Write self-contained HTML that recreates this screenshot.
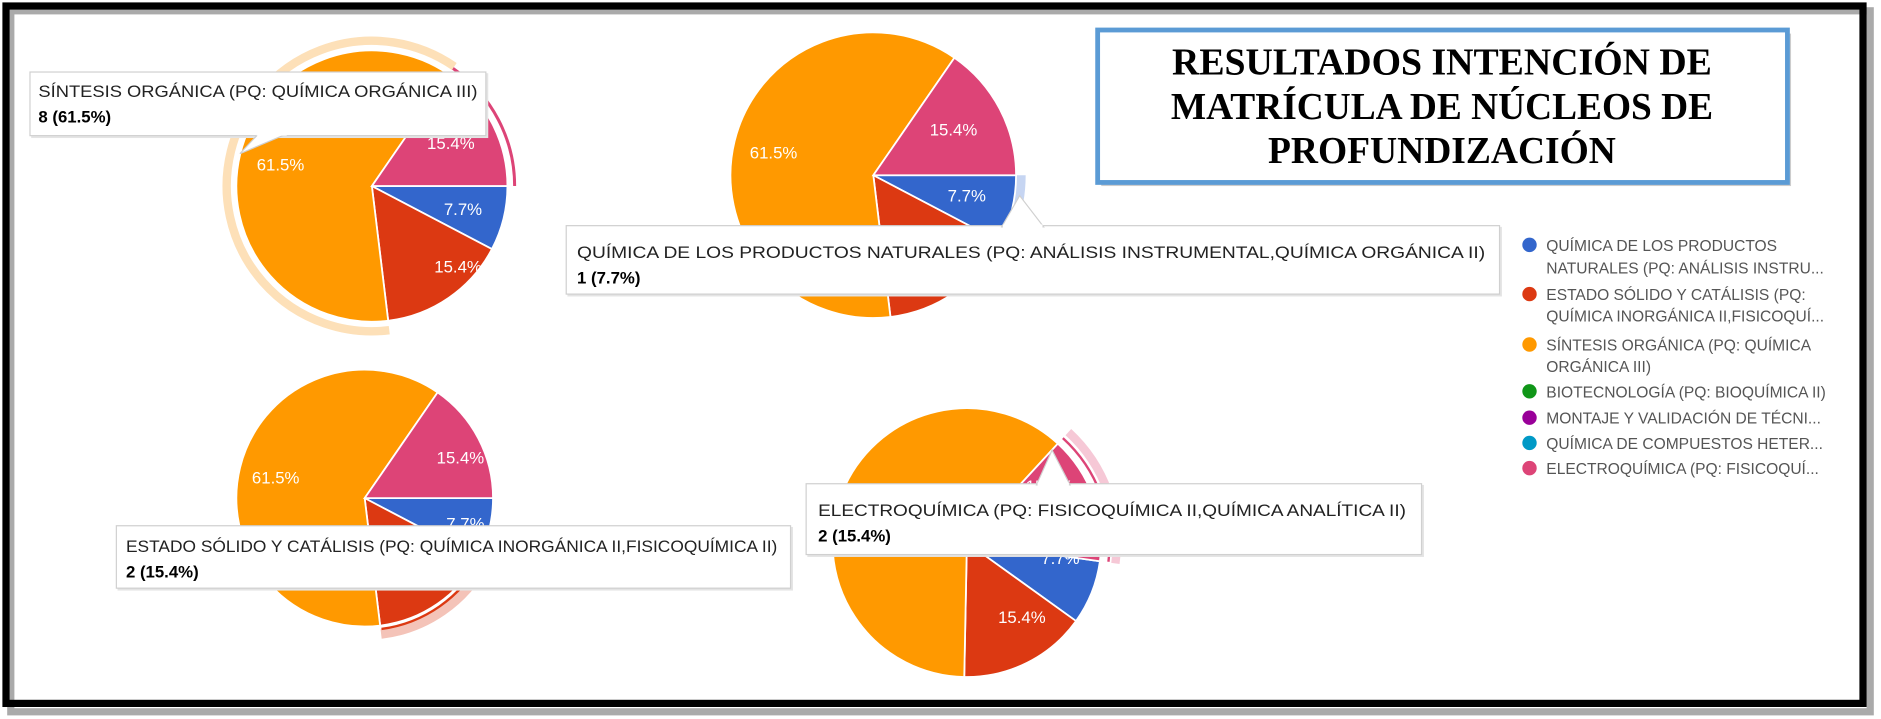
<!DOCTYPE html>
<html><head><meta charset="utf-8"><style>
html,body{margin:0;padding:0;background:#fff;}
svg{display:block;}
.t{font-family:"Liberation Sans",Arial,sans-serif;}
</style></head><body>
<svg width="1881" height="719" viewBox="0 0 1568 599" preserveAspectRatio="none" xmlns="http://www.w3.org/2000/svg">
<rect width="1568" height="599" fill="#fff"/>
<rect x="9" y="9" width="1550" height="584" fill="none" stroke="#aaa" stroke-width="6"/>
<rect x="5" y="5" width="1548" height="581" fill="none" stroke="#000" stroke-width="6"/>

<!-- Pie 1 -->
<path d="M378.7,55.4 A121,121 0 1 0 324.5,275.1" fill="none" stroke="#fde0b8" stroke-width="7"/>
<path d="M377.6,57 A119,119 0 0 1 429,155" fill="none" stroke="#dd4477" stroke-width="2.5"/>
<g stroke="#fff" stroke-width="1.5">
<path d="M310,155 L423,155 A113,113 0 0 1 410.1,207.5 Z" fill="#3366cc"/>
<path d="M310,155 L410.1,207.5 A113,113 0 0 1 323.6,267.2 Z" fill="#dc3912"/>
<path d="M310,155 L323.6,267.2 A113,113 0 1 1 374.2,62 Z" fill="#ff9900"/>
<path d="M310,155 L374.2,62 A113,113 0 0 1 423,155 Z" fill="#dd4477"/>
</g>
<g class="t" fill="#fff" font-size="14">
<text x="214" y="142">61.5%</text><text x="356" y="124">15.4%</text>
<text x="370" y="179">7.7%</text><text x="362" y="227">15.4%</text>
</g>

<!-- Pie 2 -->
<path d="M851,146 A123,123 0 0 1 837,203" fill="none" stroke="#c6d5f2" stroke-width="8"/>
<g stroke="#fff" stroke-width="1.5">
<path d="M728,146 L847,146 A119,119 0 0 1 833.4,201.3 Z" fill="#3366cc"/>
<path d="M728,146 L833.4,201.3 A119,119 0 0 1 742.3,264.1 Z" fill="#dc3912"/>
<path d="M728,146 L742.3,264.1 A119,119 0 1 1 795.6,48.1 Z" fill="#ff9900"/>
<path d="M728,146 L795.6,48.1 A119,119 0 0 1 847,146 Z" fill="#dd4477"/>
</g>
<g class="t" fill="#fff" font-size="14">
<text x="625" y="132">61.5%</text><text x="775" y="113">15.4%</text>
<text x="790" y="168">7.7%</text>
</g>

<!-- Pie 3 -->
<path d="M404.9,468 A114,114 0 0 1 317.7,528.2" fill="none" stroke="#f4c3b8" stroke-width="8"/>
<path d="M401,466 A110,110 0 0 1 318,524" fill="none" stroke="#dc3912" stroke-width="2"/>
<g stroke="#fff" stroke-width="1.5">
<path d="M304,415 L411,415 A107,107 0 0 1 398.7,464.7 Z" fill="#3366cc"/>
<path d="M304,415 L398.7,464.7 A107,107 0 0 1 316.9,521.2 Z" fill="#dc3912"/>
<path d="M304,415 L316.9,521.2 A107,107 0 1 1 364.8,326.9 Z" fill="#ff9900"/>
<path d="M304,415 L364.8,326.9 A107,107 0 0 1 411,415 Z" fill="#dd4477"/>
</g>
<g class="t" fill="#fff" font-size="14">
<text x="210" y="403">61.5%</text><text x="364" y="386">15.4%</text>
<text x="372" y="441">7.7%</text>
</g>

<!-- Pie 4 -->
<path d="M890.6,360 A125,125 0 0 1 929.8,469.4" fill="none" stroke="#f6c8d6" stroke-width="7"/>
<path d="M886,365 A119,119 0 0 1 924,468" fill="none" stroke="#dd4477" stroke-width="2"/>
<g stroke="#fff" stroke-width="1.5">
<path d="M806,452 L916.9,467.6 A112,112 0 0 1 897,517.4 Z" fill="#3366cc"/>
<path d="M806,452 L897,517.4 A112,112 0 0 1 803.8,564 Z" fill="#dc3912"/>
<path d="M806,452 L803.8,564 A112,112 0 1 1 881.8,369.6 Z" fill="#ff9900"/>
<path d="M806,452 L881.8,369.6 A112,112 0 0 1 916.9,467.6 Z" fill="#dd4477"/>
</g>
<g class="t" fill="#fff" font-size="14">
<text x="832" y="519">15.4%</text><text x="855" y="410">15.4%</text>
<text x="868" y="470">7.7%</text>
</g>

<!-- Tooltips -->
<g class="t">
<g>
<rect x="26" y="61" width="381" height="54" fill="#e4e4e4"/>
<rect x="25" y="60" width="380" height="53" fill="#fff" stroke="#d0d0d0"/>
<path d="M215,112 L200,128 L238,112 Z" fill="#fff" stroke="#d0d0d0"/>
<rect x="214" y="110" width="25" height="3" fill="#fff"/>
<text x="32" y="81" font-size="14" fill="#222" textLength="366" lengthAdjust="spacingAndGlyphs">SÍNTESIS ORGÁNICA (PQ: QUÍMICA ORGÁNICA III)</text>
<text x="32" y="102" font-size="14" font-weight="bold" fill="#000">8 (61.5%)</text>
</g>
<g>
<rect x="473" y="189" width="779" height="58" fill="#e4e4e4"/>
<rect x="472" y="188" width="778" height="57" fill="#fff" stroke="#d0d0d0"/>
<path d="M835,189 L850,163 L870,189 Z" fill="#fff" stroke="#d0d0d0"/>
<rect x="836" y="187" width="33" height="3" fill="#fff"/>
<text x="481" y="215" font-size="14" fill="#222" textLength="757" lengthAdjust="spacingAndGlyphs">QUÍMICA DE LOS PRODUCTOS NATURALES (PQ: ANÁLISIS INSTRUMENTAL,QUÍMICA ORGÁNICA II)</text>
<text x="481" y="236" font-size="14" font-weight="bold" fill="#000">1 (7.7%)</text>
</g>
<g>
<rect x="98" y="439" width="563" height="53" fill="#e4e4e4"/>
<rect x="97" y="438" width="562" height="52" fill="#fff" stroke="#d0d0d0"/>
<text x="105" y="460" font-size="14" fill="#222" textLength="543" lengthAdjust="spacingAndGlyphs">ESTADO SÓLIDO Y CATÁLISIS (PQ: QUÍMICA INORGÁNICA II,FISICOQUÍMICA II)</text>
<text x="105" y="481" font-size="14" font-weight="bold" fill="#000">2 (15.4%)</text>
</g>
<g>
<rect x="673" y="404" width="514" height="60" fill="#e4e4e4"/>
<rect x="672" y="403" width="513" height="59" fill="#fff" stroke="#d0d0d0"/>
<path d="M864,404 L877,375 L892,404 Z" fill="#fff" stroke="#d0d0d0"/>
<rect x="865" y="402" width="26" height="3" fill="#fff"/>
<text x="682" y="430" font-size="14" fill="#222" textLength="490" lengthAdjust="spacingAndGlyphs">ELECTROQUÍMICA (PQ: FISICOQUÍMICA II,QUÍMICA ANALÍTICA II)</text>
<text x="682" y="451" font-size="14" font-weight="bold" fill="#000">2 (15.4%)</text>
</g>
</g>

<!-- Title -->
<rect x="918" y="28" width="575" height="127" fill="#999" opacity="0.5"/>
<rect x="915" y="25" width="575" height="127" fill="#fff" stroke="#5b9bd5" stroke-width="4"/>
<g font-family="'Liberation Serif','Times New Roman',serif" font-weight="bold" font-size="32" fill="#000" text-anchor="middle">
<text x="1202" y="62" textLength="450" lengthAdjust="spacingAndGlyphs">RESULTADOS INTENCIÓN DE</text>
<text x="1202" y="99" textLength="452" lengthAdjust="spacingAndGlyphs">MATRÍCULA DE NÚCLEOS DE</text>
<text x="1202" y="136" textLength="290" lengthAdjust="spacingAndGlyphs">PROFUNDIZACIÓN</text>
</g>

<!-- Legend -->
<g class="t" font-size="13" fill="#555">
<circle cx="1275" cy="204" r="6" fill="#3366cc"/>
<text x="1289" y="209">QUÍMICA DE LOS PRODUCTOS</text>
<text x="1289" y="228">NATURALES (PQ: ANÁLISIS INSTRU...</text>
<circle cx="1275" cy="245" r="6" fill="#dc3912"/>
<text x="1289" y="250">ESTADO SÓLIDO Y CATÁLISIS (PQ:</text>
<text x="1289" y="268">QUÍMICA INORGÁNICA II,FISICOQUÍ...</text>
<circle cx="1275" cy="287" r="6" fill="#ff9900"/>
<text x="1289" y="292">SÍNTESIS ORGÁNICA (PQ: QUÍMICA</text>
<text x="1289" y="310">ORGÁNICA III)</text>
<circle cx="1275" cy="326" r="6" fill="#109618"/>
<text x="1289" y="331">BIOTECNOLOGÍA (PQ: BIOQUÍMICA II)</text>
<circle cx="1275" cy="348" r="6" fill="#990099"/>
<text x="1289" y="353">MONTAJE Y VALIDACIÓN DE TÉCNI...</text>
<circle cx="1275" cy="369" r="6" fill="#0099c6"/>
<text x="1289" y="374">QUÍMICA DE COMPUESTOS HETER...</text>
<circle cx="1275" cy="390" r="6" fill="#dd4477"/>
<text x="1289" y="395">ELECTROQUÍMICA (PQ: FISICOQUÍ...</text>
</g>
</svg>
</body></html>
